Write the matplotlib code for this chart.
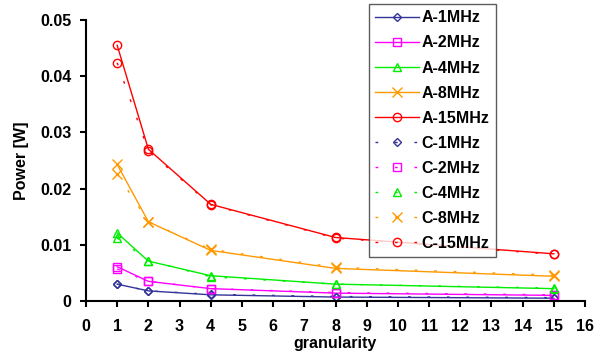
import numpy as np
import matplotlib.pyplot as plt

plt.rcParams['font.family'] = ['Liberation Sans', 'DejaVu Sans']
plt.rcParams['font.weight'] = 'bold'

granularity = [1, 2, 4, 8, 15]
freqs = ['1MHz', '2MHz', '4MHz', '8MHz', '15MHz']

A_vals = [
    [0.0030, 0.0018, 0.0011, 0.0007, 0.0005],
    [0.0061, 0.0035, 0.0022, 0.0014, 0.0010],
    [0.0121, 0.0071, 0.0045, 0.0030, 0.0022],
    [0.0243, 0.0141, 0.0090, 0.0058, 0.0044],
    [0.0455, 0.0270, 0.0172, 0.0113, 0.0084],
]
C_vals = [
    [0.0030, 0.0018, 0.0012, 0.0008, 0.0006],
    [0.0057, 0.0035, 0.0022, 0.0015, 0.0011],
    [0.0112, 0.0072, 0.0043, 0.0030, 0.0023],
    [0.0226, 0.0141, 0.0092, 0.0060, 0.0046],
    [0.0424, 0.0267, 0.0171, 0.0112, 0.0083],
]

colors = ['#333399', '#FF00FF', '#00EE00', '#FF9900', '#FF0000']
markers = ['D', 's', '^', 'x', 'o']
msizes = [4, 6, 6, 6.5, 6]

fig = plt.figure(figsize=(6.05, 3.52), dpi=100)
ax = fig.add_axes([86/605, 1-301/352, (585-86)/605, (301-20)/352])

handles = []
for i in range(5):
    h, = ax.plot(granularity, A_vals[i], color=colors[i], marker=markers[i],
                 markersize=msizes[i], markerfacecolor='none', lw=1.0,
                 label='A-' + freqs[i])
    handles.append(h)
for i in range(5):
    h, = ax.plot(granularity, C_vals[i], color=colors[i], marker=markers[i],
                 markersize=msizes[i], markerfacecolor='none', lw=1.0,
                 linestyle=(0, (2, 12)), label='C-' + freqs[i])
    handles.append(h)

ax.set_xlim(0, 16)
ax.set_ylim(0, 0.05)
ax.set_xticks(range(0, 17))
ax.set_yticks([0, 0.01, 0.02, 0.03, 0.04, 0.05])
ax.set_yticklabels(['0', '0.01', '0.02', '0.03', '0.04', '0.05'])
ax.tick_params(direction='out', length=4.3, width=1.5, labelsize=11.5)
ax.tick_params(axis='x', pad=9)
ax.tick_params(axis='y', pad=6)
for s in ['top', 'right']:
    ax.spines[s].set_visible(False)
for s in ['left', 'bottom']:
    ax.spines[s].set_linewidth(1.5)
ax.set_xlabel('granularity', fontsize=11.5, fontweight='bold', labelpad=1)
ax.set_ylabel('Power [W]', fontsize=11.5, fontweight='bold', labelpad=8)

leg = fig.legend(handles=handles, loc='upper left',
                 bbox_to_anchor=(369/605, 1-4/352), fontsize=11.5,
                 frameon=True, fancybox=False, edgecolor='#333333',
                 handlelength=2.7, labelspacing=0.63, borderpad=0.4,
                 handletextpad=0.2, borderaxespad=0)
leg.get_frame().set_linewidth(1.0)

fig.savefig('out.png', dpi=100)
